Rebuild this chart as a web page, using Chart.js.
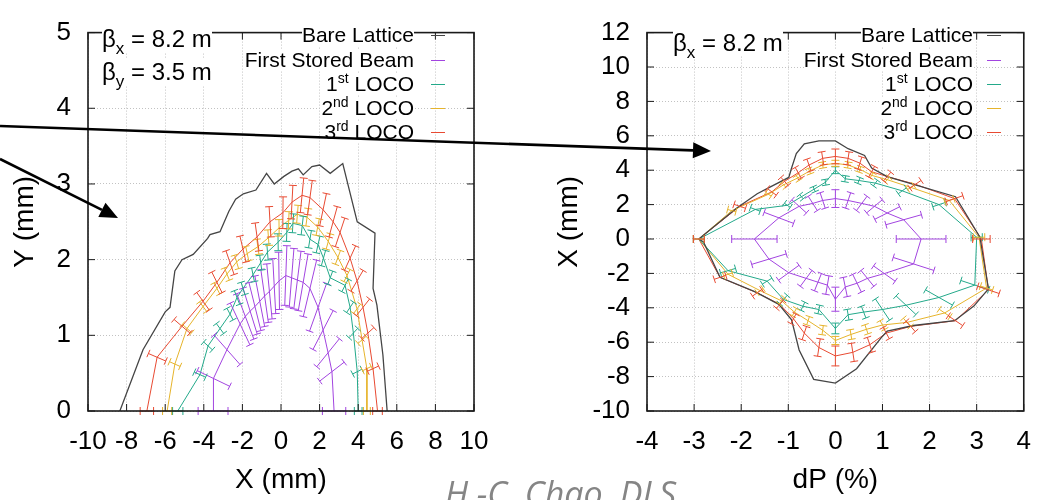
<!DOCTYPE html>
<html><head><meta charset="utf-8">
<script src="https://cdn.jsdelivr.net/npm/chart.js@4.4.0/dist/chart.umd.min.js"></script>
<style>
html,body{margin:0;padding:0;background:#fff;}
#wrap{position:relative;width:1046px;height:500px;overflow:hidden;background:#fff;}
#c1{position:absolute;left:0;top:0;}
#c2{position:absolute;left:530px;top:0;}
.lbl{position:absolute;font-family:"Liberation Sans",Arial,sans-serif;font-size:21px;color:#000;white-space:nowrap;line-height:22px;height:22px;background:#fff;}
.lbl sup{font-size:14px;vertical-align:0;position:relative;top:-8px;}
.lbl sub{font-size:17px;vertical-align:0;position:relative;top:7px;}
.beta{font-size:24px;line-height:26px;height:26px;}
.key{position:absolute;height:1.4px;width:14px;}
#wm{position:absolute;left:445px;top:478px;font-family:"Open Sans",sans-serif;font-style:italic;font-size:34px;line-height:30px;color:#858585;white-space:nowrap;}
#arr{position:absolute;left:0;top:0;}
</style>
</head><body>
<div id="wrap">
<canvas id="c1" width="530" height="500"></canvas>
<canvas id="c2" width="516" height="500"></canvas>
<div id="overlay"></div>
<div id="wm">H.-C. Chao, DLS</div>
<svg id="arr" width="1046" height="500"></svg>
</div>
<script>
// ---------- data: left panel (X-Y dynamic aperture) ----------
const L_bare_x = [-8.35,-7.15,-6.0,-5.75,-5.5,-5.13,-4.55,-3.8,-3.68,-3.16,-2.7,-2.35,-1.95,-1.3,-0.75,-0.35,0.15,0.57,0.9,1.15,1.6,2.0,2.55,3.2,3.95,4.87,4.77,4.97,5.28,5.5];
const L_bare_y = [0,0.81,1.31,1.37,1.85,2.0,2.07,2.28,2.33,2.37,2.64,2.8,2.87,2.92,3.14,3.0,3.1,3.17,3.2,3.12,3.23,3.25,3.14,3.27,2.5,2.35,1.62,1.4,0.74,0];

const L_fsb_x = [-3.52,-3.5,-2.8,-2.12,-1.85,-1.6,-1.35,-1.1,-0.85,-0.6,-0.35,-0.1,0.25,0.55,0.85,1.15,1.5,1.92,2.18,2.44,2.64,2.75];
const L_fsb_y = [0,0.43,0.81,1.15,1.25,1.32,1.38,1.45,1.52,1.58,1.65,1.72,1.79,1.76,1.73,1.7,1.62,1.37,1.07,0.77,0.52,0];
const L_fsb_e = [0.22,0.24,0.24,0.24,0.24,0.23,0.23,0.23,0.23,0.23,0.22,0.22,0.22,0.22,0.22,0.22,0.23,0.23,0.24,0.24,0.24,0.22];

const L_loco1_x = [-5.35,-4.2,-3.78,-3.16,-2.64,-2.28,-1.97,-1.45,-1.05,-0.7,-0.15,0.3,0.62,1.1,1.5,1.92,2.2,2.55,3.32,3.58,3.75,3.95,4.0];
const L_loco1_y = [0,0.48,0.86,1.09,1.28,1.5,1.62,1.8,1.96,2.1,2.23,2.36,2.48,2.45,2.27,2.2,2.02,1.76,1.66,1.37,1.03,0.52,0];
const L_loco1_e = [0.05,0.07,0.06,0.06,0.06,0.06,0.05,0.05,0.05,0.05,0.05,0.05,0.05,0.05,0.05,0.05,0.05,0.05,0.05,0.05,0.06,0.06,0.05];

const L_loco2_x = [-5.9,-5.5,-4.87,-4.04,-3.32,-2.8,-2.3,-1.75,-1.2,-0.65,-0.1,0.4,0.85,1.35,1.9,2.45,2.95,3.42,3.94,4.2,4.45,4.45];
const L_loco2_y = [0,0.62,1.09,1.38,1.62,1.81,1.97,2.08,2.17,2.29,2.42,2.52,2.6,2.56,2.43,2.24,2.03,1.79,1.35,0.94,0.56,0];
const L_loco2_e = [0.04,0.05,0.05,0.045,0.045,0.045,0.045,0.045,0.045,0.045,0.045,0.045,0.045,0.045,0.045,0.045,0.045,0.045,0.045,0.05,0.05,0.04];

const L_loco3_x = [-6.95,-6.42,-5.13,-4.04,-3.32,-2.64,-1.97,-1.24,-0.57,0.1,0.57,1.09,1.5,2.18,2.7,3.06,3.58,3.94,4.25,4.5,4.77,5.0];
const L_loco3_y = [0,0.71,1.12,1.45,1.7,1.96,2.14,2.3,2.5,2.62,2.76,2.85,2.82,2.66,2.5,2.36,2.02,1.72,1.37,1.03,0.56,0];
const L_loco3_e = [0.05,0.07,0.08,0.08,0.08,0.08,0.08,0.08,0.08,0.08,0.08,0.08,0.08,0.08,0.08,0.08,0.08,0.08,0.08,0.07,0.06,0.05];

// ---------- data: right panel (dP-X momentum aperture) ----------
const R_bare_x = [-2.9,-2.1,-1.66,-1.39,-0.99,-0.93,-0.83,-0.66,-0.35,0,0.27,0.62,0.77,1.1,1.66,2.55,3.07,3.25,2.94,2.53,1.66,1.1,0.97,0.45,0,-0.46,-0.77,-0.93,-1.2,-1.7,-2.45,-2.8,-2.9];
const R_bare_y = [0,1.79,2.63,3.02,3.58,4.13,4.97,5.53,5.7,5.7,5.25,4.86,4.13,3.63,3.18,2.46,0.1,-2.9,-3.9,-4.75,-5.03,-5.36,-5.75,-7.54,-8.38,-8.16,-6.45,-4.7,-3.8,-3.07,-2.23,-0.17,0];

const R_fsb_x = [-1.72,-1.2,-0.77,-0.48,-0.27,0,0.27,0.56,0.83,1.1,1.45,1.82,1.66,1.04,0.68,0.46,0.21,0,-0.17,-0.37,-0.62,-0.99,-1.41,-1.72];
const R_fsb_y = [0,1.23,1.9,2.07,2.24,2.35,2.24,2.07,1.9,1.51,1.12,0,-1.45,-2.01,-2.29,-2.57,-2.79,-3.5,-2.68,-2.51,-2.29,-1.96,-1.17,0];
const R_fsb_e = [0.28,0.26,0.2,0.2,0.2,0.22,0.2,0.2,0.2,0.24,0.26,0.29,0.26,0.22,0.2,0.2,0.2,0.2,0.2,0.2,0.2,0.22,0.26,0];

const R_loco1_x = [-2.9,-1.7,-1.02,-0.72,-0.45,-0.21,0,0.21,0.5,0.85,1.42,2.2,3.0,2.96,2.2,1.5,1.0,0.6,0.27,0,-0.35,-0.69,-1.1,-1.45,-2.28,-2.9];
const R_loco1_y = [0,1.72,1.96,2.46,2.9,3.3,4.0,3.5,3.4,3.25,2.8,2.0,0.1,-2.68,-3.4,-3.85,-4.1,-4.25,-4.4,-5.2,-4.1,-3.91,-3.52,-2.45,-1.84,0];
const R_loco1_e = [0.04,0.06,0.06,0.05,0.05,0.05,0.05,0.05,0.05,0.05,0.06,0.06,0.04,0.1,0.13,0.14,0.15,0.08,0.07,0.06,0.06,0.06,0.07,0.07,0.07,0];

const R_loco2_x = [-2.9,-2.2,-1.42,-1.1,-0.8,-0.55,-0.27,0,0.27,0.52,0.77,1.1,1.6,2.42,3.05,3.21,2.32,1.52,1.0,0.66,0.33,0,-0.27,-0.58,-0.87,-1.14,-1.6,-2.28,-2.9];
const R_loco2_y = [0,1.65,2.6,3.15,3.55,3.95,4.3,4.4,4.3,4.05,3.7,3.45,3.0,2.24,0.1,-2.85,-4.3,-4.85,-5.0,-5.25,-5.55,-5.9,-5.3,-4.75,-4.25,-3.6,-3.0,-2.05,0];
const R_loco2_e = [0.04,0.04,0.04,0.04,0.04,0.04,0.04,0.04,0.04,0.04,0.04,0.04,0.04,0.04,0.04,0.04,0.05,0.05,0.05,0.05,0.05,0.04,0.05,0.05,0.05,0.05,0.04,0.04,0];

const R_loco3_x = [-2.9,-2.03,-1.35,-1.08,-0.79,-0.56,-0.27,0,0.27,0.52,0.77,1.1,1.7,2.53,3.1,3.25,2.55,1.6,1.08,0.73,0.37,0,-0.35,-0.66,-0.89,-1.18,-1.66,-2.45,-2.9];
const R_loco3_y = [0,1.9,2.74,3.35,3.85,4.3,4.69,4.8,4.69,4.41,3.91,3.63,3.18,2.35,0,-2.96,-4.75,-5.08,-5.47,-6.15,-6.59,-6.8,-6.31,-5.47,-4.64,-3.8,-3.13,-2.23,0];
const R_loco3_e = [0.04,0.06,0.07,0.07,0.08,0.08,0.08,0.09,0.08,0.08,0.08,0.07,0.07,0.07,0.06,0.07,0.06,0.06,0.06,0.07,0.08,0.085,0.08,0.07,0.06,0.06,0.06,0.05,0];

// ---------- labels ----------
const seriesNames = ['Bare Lattice','First Stored Beam','1<sup>st</sup> LOCO','2<sup>nd</sup> LOCO','3<sup>rd</sup> LOCO'];
const seriesColors = ['#454545','#a244e0','#23a98a','#e6b42c','#e84a32'];
const leftTicksX = {min:-10,max:10,step:2};
const leftTicksY = {min:0,max:5,step:1};
const rightTicksX = {min:-4,max:4,step:1};
const rightTicksY = {min:-10,max:12,step:2};

const FONT = '"Liberation Sans", Arial, sans-serif';

function pts(xs, ys){ return xs.map((x,i)=>({x:x, y:ys[i]})); }

const errorBars = {
  id:'errorBars',
  afterDatasetsDraw(chart){
    const ctx = chart.ctx, xs = chart.scales.x, ys = chart.scales.y;
    chart.data.datasets.forEach(ds=>{
      if(!ds.errRel) return;
      ctx.save();
      ctx.strokeStyle = ds.borderColor; ctx.lineWidth = 1;
      ctx.beginPath();
      ds.data.forEach((p,i)=>{
        const f = ds.errRel[i]; if(!f) return;
        const x1 = xs.getPixelForValue(p.x*(1-f)), y1 = ys.getPixelForValue(p.y*(1-f));
        const x2 = xs.getPixelForValue(p.x*(1+f)), y2 = ys.getPixelForValue(p.y*(1+f));
        const dx = x2-x1, dy = y2-y1, L = Math.hypot(dx,dy)||1;
        const nx = -dy/L*4, ny = dx/L*4;
        ctx.moveTo(x1,y1); ctx.lineTo(x2,y2);
        ctx.moveTo(x1-nx,y1-ny); ctx.lineTo(x1+nx,y1+ny);
        ctx.moveTo(x2-nx,y2-ny); ctx.lineTo(x2+nx,y2+ny);
      });
      ctx.stroke();
      ctx.restore();
    });
  }
};

const frame = {
  id:'frame',
  afterDraw(chart){
    const ctx = chart.ctx, a = chart.chartArea, x = chart.scales.x, y = chart.scales.y;
    ctx.save();
    ctx.strokeStyle = '#1a1a1a';
    ctx.beginPath();
    x.ticks.forEach(t=>{ const px = x.getPixelForValue(t.value);
      ctx.moveTo(px,a.bottom); ctx.lineTo(px,a.bottom-7); ctx.moveTo(px,a.top); ctx.lineTo(px,a.top+7); });
    y.ticks.forEach(t=>{ const py = y.getPixelForValue(t.value);
      ctx.moveTo(a.left,py); ctx.lineTo(a.left+7,py); ctx.moveTo(a.right,py); ctx.lineTo(a.right-7,py); });
    ctx.lineWidth = 1; ctx.stroke();
    ctx.lineWidth = 1.6;
    ctx.strokeRect(a.left,a.top,a.right-a.left,a.bottom-a.top);
    ctx.restore();
  }
};

function ds(i, xs, ys, err){
  const d = {label: seriesNames[i], data: pts(xs,ys), showLine:true, borderColor: seriesColors[i],
    backgroundColor: seriesColors[i], borderWidth: i===0?1.3:1, pointRadius:0, tension:0, fill:false};
  if(err) d.errRel = err;
  return d;
}

function opts(tx, ty, xTitle, yTitle, yW, yTitlePad, padRight){
  return {
    responsive:false, animation:false, events:[],
    layout:{padding:{left:0, top:17, right:padRight, bottom:0}},
    plugins:{legend:{display:false}, tooltip:{enabled:false}},
    scales:{
      x:{type:'linear', min:tx.min, max:tx.max,
        ticks:{stepSize:tx.step, color:'#000', font:{family:FONT,size:26}, padding:15, maxRotation:0, autoSkip:false},
        grid:{color:'#c2c2c2', lineWidth:1, drawTicks:false},
        border:{display:false, dash:[1,2]},
        title:{display:true, text:xTitle, color:'#000', font:{family:FONT,size:28}, padding:{top:0,bottom:3}},
        afterFit(s){ s.height = 89; }
      },
      y:{type:'linear', min:ty.min, max:ty.max,
        ticks:{stepSize:ty.step, color:'#000', font:{family:FONT,size:26}, padding:17, autoSkip:false},
        grid:{color:'#c2c2c2', lineWidth:1, drawTicks:false},
        border:{display:false, dash:[1,2]},
        title:{display:true, text:yTitle, color:'#000', font:{family:FONT,size:28}, padding:{top:yTitlePad,bottom:0}},
        afterFit(s){ s.width = yW; }
      }
    }
  };
}

new Chart(document.getElementById('c1'), {
  type:'scatter',
  data:{datasets:[
    ds(0, L_bare_x, L_bare_y),
    ds(1, L_fsb_x, L_fsb_y, L_fsb_e),
    ds(2, L_loco1_x, L_loco1_y, L_loco1_e),
    ds(3, L_loco2_x, L_loco2_y, L_loco2_e),
    ds(4, L_loco3_x, L_loco3_y, L_loco3_e)
  ]},
  options: opts(leftTicksX, leftTicksY, 'X (mm)', 'Y (mm)', 88, 8, 56),
  plugins:[errorBars, frame]
});

new Chart(document.getElementById('c2'), {
  type:'scatter',
  data:{datasets:[
    ds(0, R_bare_x, R_bare_y),
    ds(1, R_fsb_x, R_fsb_y, R_fsb_e),
    ds(2, R_loco1_x, R_loco1_y, R_loco1_e),
    ds(3, R_loco2_x, R_loco2_y, R_loco2_e),
    ds(4, R_loco3_x, R_loco3_y, R_loco3_e)
  ]},
  options: opts(rightTicksX, rightTicksY, 'dP (%)', 'X (mm)', 117, 22, 13),
  plugins:[errorBars, frame]
});

// ---------- legends and annotations (HTML overlay) ----------
const ov = document.getElementById('overlay');
function addLegend(textRight, keyLeft){
  const rows = [35, 60, 84, 108, 132];
  seriesNames.forEach((n,i)=>{
    const t = document.createElement('div');
    t.className = 'lbl'; t.innerHTML = n;
    t.style.right = (1046 - textRight) + 'px'; t.style.top = (rows[i]-11) + 'px';
    ov.appendChild(t);
    const k = document.createElement('div');
    k.className = 'key'; k.style.left = keyLeft + 'px'; k.style.top = rows[i] + 'px';
    k.style.background = seriesColors[i];
    ov.appendChild(k);
  });
}
addLegend(414, 431);
addLegend(973, 987);
function addText(html, left, cy){
  const t = document.createElement('div');
  t.className = 'lbl beta'; t.innerHTML = html;
  t.style.left = left + 'px'; t.style.top = (cy-13) + 'px';
  ov.appendChild(t);
}
addText('&beta;<sub>x</sub> = 8.2 m', 102, 39);
addText('&beta;<sub>y</sub> = 3.5 m', 102, 72);
addText('&beta;<sub>x</sub> = 8.2 m', 673, 43);

// arrows
const svg = document.getElementById('arr');
function arrow(x0,y0,x1,y1){
  const dx = x1-x0, dy = y1-y0, L = Math.hypot(dx,dy), ux = dx/L, uy = dy/L;
  const hl = 18, hw = 8;
  const bx = x1-ux*hl, by = y1-uy*hl;
  const ns = 'http://www.w3.org/2000/svg';
  const ln = document.createElementNS(ns,'line');
  ln.setAttribute('x1',x0); ln.setAttribute('y1',y0); ln.setAttribute('x2',bx); ln.setAttribute('y2',by);
  ln.setAttribute('stroke','#000'); ln.setAttribute('stroke-width','2.6');
  svg.appendChild(ln);
  const pg = document.createElementNS(ns,'polygon');
  pg.setAttribute('points', `${x1},${y1} ${bx-uy*hw},${by+ux*hw} ${bx+uy*hw},${by-ux*hw}`);
  pg.setAttribute('fill','#000');
  svg.appendChild(pg);
}
arrow(0,126,711,151);
arrow(0,159,118,218);
</script>
</body></html>
